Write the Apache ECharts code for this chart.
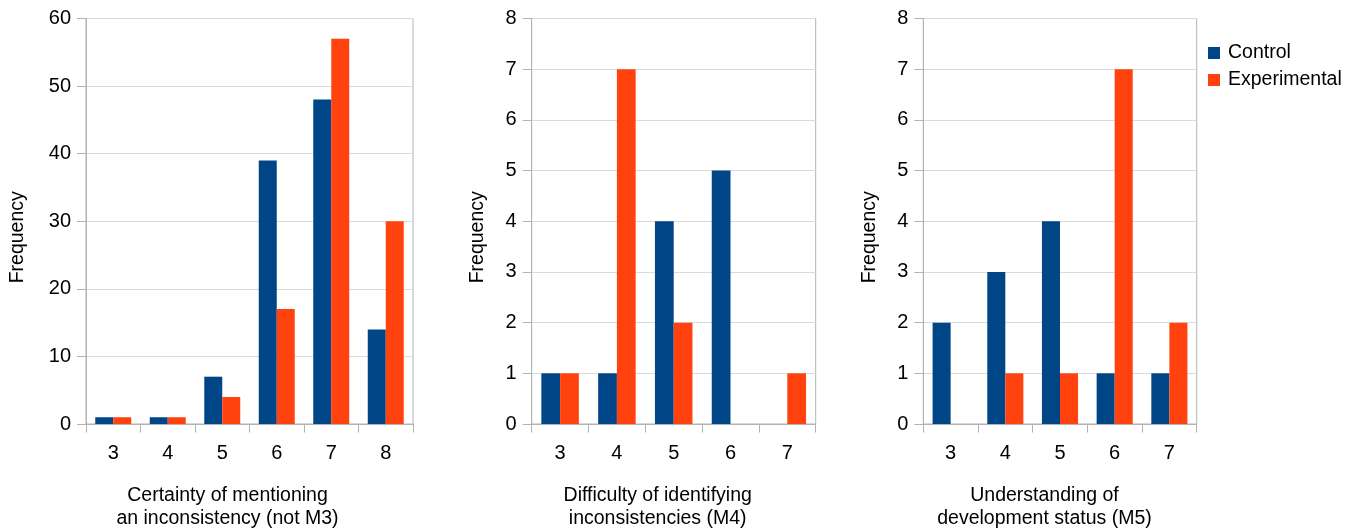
<!DOCTYPE html>
<html>
<head>
<meta charset="utf-8">
<script src="https://cdn.jsdelivr.net/npm/echarts@6/dist/echarts.min.js"></script>
<style>
html,body{margin:0;padding:0;background:#fff;}
#chart{width:1365px;height:529px;}
</style>
</head>
<body>
<div id="chart"></div>
<script>
// Panel 1: Certainty of mentioning an inconsistency (not M3)
const categories1 = ['3', '4', '5', '6', '7', '8'];
const control1 = [1, 1, 7, 39, 48, 14];
const experimental1 = [1, 1, 4, 17, 57, 30];
// Panel 2: Difficulty of identifying inconsistencies (M4)
const categories2 = ['3', '4', '5', '6', '7'];
const control2 = [1, 1, 4, 5, 0];
const experimental2 = [1, 7, 2, 0, 1];
// Panel 3: Understanding of development status (M5)
const categories3 = ['3', '4', '5', '6', '7'];
const control3 = [2, 3, 4, 1, 1];
const experimental3 = [0, 1, 1, 7, 2];

const xTitles = ['Certainty of mentioning\nan inconsistency (not M3)',
                 'Difficulty of identifying\ninconsistencies (M4)',
                 'Understanding of\ndevelopment status (M5)'];
const yTitle = 'Frequency';
const seriesNames = ['Control', 'Experimental'];

const FONT = 'Liberation Sans';
const AXIS_C = '#b3b3b3';
const GRID_C = '#dadada';
const COLORS = ['#004586', '#ff420e'];

const grids = [
  {left: 86, top: 18.5, width: 327, height: 405.5},
  {left: 531.7, top: 18.5, width: 284, height: 405.5},
  {left: 923.3, top: 18.5, width: 273.4, height: 405.5}
];
const yNameGaps = [58.5, 43.7, 43.3];
const xNameShift = [44, 32, 31];
const yMax = [60, 8, 8];
const yInt = [10, 1, 1];
const cats = [categories1, categories2, categories3];
const ctrl = [control1, control2, control3];
const expr = [experimental1, experimental2, experimental3];

const option = {
  animation: false,
  color: COLORS,
  textStyle: {fontFamily: FONT, color: '#000'},
  legend: {
    data: seriesNames,
    orient: 'vertical',
    left: 1208,
    top: 43,
    padding: 0,
    icon: 'rect',
    itemWidth: 12,
    itemHeight: 12,
    itemGap: 7,
    textStyle: {fontFamily: FONT, fontSize: 19.5, color: '#000', padding: [0, 0, 0, 3]}
  },
  grid: grids.map(g => Object.assign({show: true, borderColor: AXIS_C, borderWidth: 1, outerBoundsMode: 'none'}, g)),
  xAxis: [0, 1, 2].map(i => ({
    type: 'category',
    gridIndex: i,
    data: cats[i],
    name: xTitles[i],
    nameLocation: 'middle',
    nameGap: 60.5,
    nameTextStyle: {fontFamily: FONT, fontSize: 19.5, color: '#000', lineHeight: 23, padding: [0, xNameShift[i], 0, 0]},
    axisLine: {lineStyle: {color: AXIS_C}},
    axisTick: {show: true, alignWithLabel: false, length: 8.5, lineStyle: {color: AXIS_C}},
    axisLabel: {fontFamily: FONT, fontSize: 20, color: '#000', margin: 19},
    splitLine: {show: false}
  })),
  yAxis: [0, 1, 2].map(i => ({
    type: 'value',
    gridIndex: i,
    min: 0,
    max: yMax[i],
    interval: yInt[i],
    name: yTitle,
    nameLocation: 'middle',
    nameGap: yNameGaps[i],
    nameRotate: 90,
    nameTextStyle: {fontFamily: FONT, fontSize: 19.5, color: '#000', padding: [0, 32, 0, 0]},
    axisLine: {show: true, lineStyle: {color: AXIS_C}},
    axisTick: {show: true, length: 9, lineStyle: {color: AXIS_C}},
    axisLabel: {fontFamily: FONT, fontSize: 20, color: '#000', margin: 15},
    splitLine: {show: true, lineStyle: {color: GRID_C}}
  })),
  series: []
};
for (let i = 0; i < 3; i++) {
  option.series.push({
    name: seriesNames[0], type: 'bar', xAxisIndex: i, yAxisIndex: i,
    data: ctrl[i], barWidth: '33%', barGap: '0%', itemStyle: {color: COLORS[0]}
  });
  option.series.push({
    name: seriesNames[1], type: 'bar', xAxisIndex: i, yAxisIndex: i,
    data: expr[i], barWidth: '33%', barGap: '0%', itemStyle: {color: COLORS[1]}
  });
}
const chart = echarts.init(document.getElementById('chart'), null, {renderer: 'canvas'});
chart.setOption(option);
</script>
</body>
</html>
